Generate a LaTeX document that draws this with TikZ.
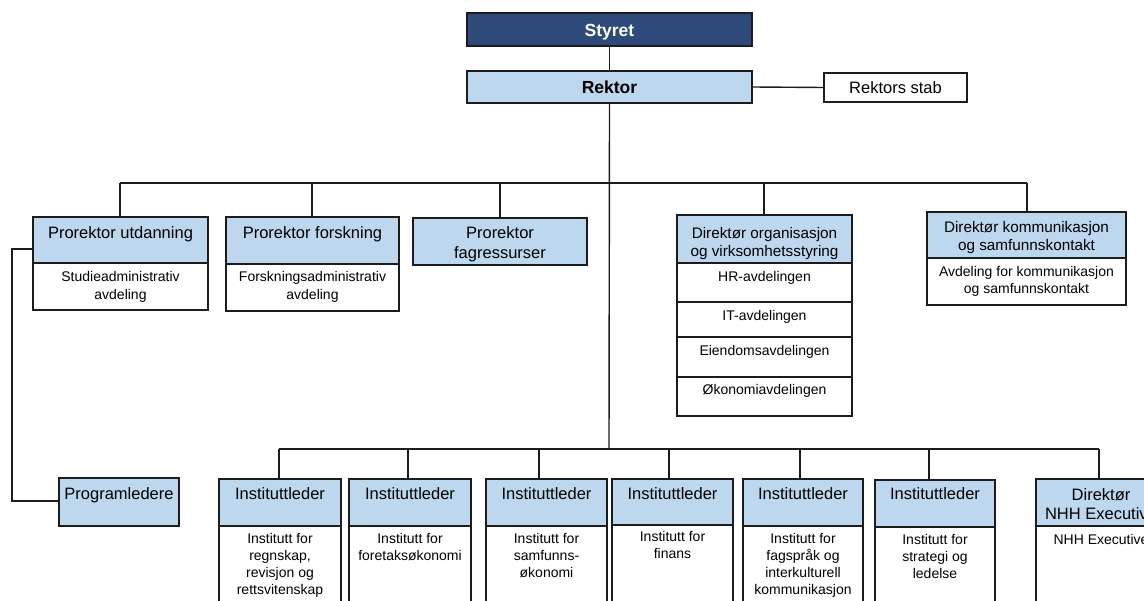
\documentclass[tikz,border=0pt]{standalone}
\usepackage{fontspec}
\setmainfont{Liberation Sans}
\definecolor{navy}{RGB}{46,74,122}
\definecolor{lblue}{RGB}{189,215,238}
\definecolor{linec}{RGB}{28,28,28}
\newcommand\bx[6]{\node[#2, minimum width={#5-#3}, minimum height={#6-#4}, anchor=north west] (#1) at (#3,#4) {};}
\tikzset{
  box/.style={draw=linec, line width=1.7pt, inner sep=0pt, outer sep=0pt},
  hdr/.style={box, fill=lblue},
  topbox/.style={box, fill=navy},
  subbox/.style={box, fill=white},
  conn/.style={draw=linec, line width=1.4pt},
  bigtxt/.style={anchor=base, align=center, inner sep=0pt, font={\fontsize{16.5}{19.5}\selectfont}},
  dirtxt/.style={anchor=base, align=center, inner sep=0pt, font={\fontsize{15.3}{18}\selectfont}},
  smalltxt/.style={anchor=base, align=center, inner sep=0pt, font={\fontsize{14}{17.3}\selectfont}},
  boldtxt/.style={anchor=base, align=center, inner sep=0pt, font={\fontsize{17.5}{20}\selectfont\bfseries}},
}
\begin{document}
\begin{tikzpicture}[x=1pt,y=-1pt]
\clip (0,0) rectangle (1144,601);
\fill[white] (0,0) rectangle (1144,601);

\coordinate (bl) at (12,249);
\coordinate (bl2) at (12,501);
\coordinate (tl) at (120,183);
\coordinate (tr) at (1027,183);
\coordinate (bm) at (609,449);
\coordinate (bbl) at (279,449);
\coordinate (bbr) at (1099,449);

% boxes
\bx{styret}{topbox}{467}{13}{752}{46}
\bx{rektor}{hdr}{467}{71}{752}{103}
\bx{stab}{subbox}{824}{73}{967}{102}

\bx{pu}{hdr}{33}{217}{208}{263}
\bx{pus}{subbox}{33}{263}{208}{310}
\bx{pf}{hdr}{226}{217}{399}{264}
\bx{pfs}{subbox}{226}{264}{399}{311}
\bx{pfag}{hdr}{413}{218}{587}{265}

\bx{dor}{hdr}{677}{215}{852}{263}
\bx{hr}{subbox}{677}{263}{852}{302}
\bx{it}{subbox}{677}{302}{852}{337}
\bx{eiend}{subbox}{677}{337}{852}{377}
\bx{okon}{subbox}{677}{377}{852}{416}

\bx{dk}{hdr}{927}{212}{1126}{258}
\bx{dks}{subbox}{927}{258}{1126}{305}

\bx{prog}{hdr}{59}{478}{179}{526}

\bx{ia}{hdr}{219}{479}{341}{526}
\bx{ias}{subbox}{219}{526}{341}{612}
\bx{ib}{hdr}{349}{479}{471}{526}
\bx{ibs}{subbox}{349}{526}{471}{612}
\bx{ic}{hdr}{486}{479}{607}{526}
\bx{ics}{subbox}{486}{526}{607}{612}
\bx{id}{hdr}{612}{479}{733}{525}
\bx{ids}{subbox}{612}{525}{733}{612}
\bx{ie}{hdr}{743}{479}{863}{526}
\bx{ies}{subbox}{743}{526}{863}{612}
\bx{iff}{hdr}{875}{480}{995}{527}
\bx{iffs}{subbox}{875}{527}{995}{612}
\bx{nhh}{hdr}{1036}{479}{1166}{526}
\bx{nhhs}{subbox}{1036}{526}{1166}{612}

% connectors
\draw[conn] (styret.south) -- (rektor.north);
\draw[conn] (rektor.east) -- (stab.west);
\draw[conn] (rektor.south) -- (bm);
\draw[conn] (tl) -- (tr);
\draw[conn] (tl) -- (pu.north -| tl);
\draw[conn] (312,183) -- (pf.north -| 312,0);
\draw[conn] (500,183) -- (pfag.north);
\draw[conn] (764,183) -- (dor.north -| 764,0);
\draw[conn] (tr) -- (dk.north -| tr);
\draw[conn] (pu.west |- bl) -- (bl) -- (bl2) -- (prog.west |- bl2);
\draw[conn] (bbl) -- (bbr);
\draw[conn] (bbl) -- (ia.north -| bbl);
\draw[conn] (408,449) -- (ib.north -| 408,0);
\draw[conn] (539,449) -- (ic.north -| 539,0);
\draw[conn] (669,449) -- (id.north -| 669,0);
\draw[conn] (800,449) -- (ie.north -| 800,0);
\draw[conn] (929,449) -- (iff.north -| 929,0);
\draw[conn] (bbr) -- (nhh.north -| bbr);

% texts (anchor=base sits on the last line's baseline)
\node[boldtxt, text=white] (t1) at (609.5,37) {Styret};
\node[boldtxt] (t2) at (609.5,94) {Rektor};
\node[bigtxt] (t3) at (895.5,94) {Rektors stab};

\node[bigtxt] (t4) at (120.5,239) {Prorektor utdanning};
\node[smalltxt] (t5) at (120.5,299.3) {Studieadministrativ\\avdeling};
\node[bigtxt] (t6) at (312.5,239) {Prorektor forskning};
\node[smalltxt] (t7) at (312.5,299.3) {Forskningsadministrativ\\avdeling};
\node[bigtxt] (t8) at (500,258.5) {Prorektor\\fagressurser};

\node[dirtxt] (t9) at (764.5,256.5) {Direktør organisasjon\\og virksomhetsstyring};
\node[smalltxt] (t10) at (764.5,282) {HR-avdelingen};
\node[smalltxt] (t11) at (764.5,321) {IT-avdelingen};
\node[smalltxt] (t12) at (764.5,356) {Eiendomsavdelingen};
\node[smalltxt] (t13) at (764.5,395) {Økonomiavdelingen};

\node[dirtxt] (t14) at (1026.5,250.5) {Direktør kommunikasjon\\og samfunnskontakt};
\node[smalltxt] (t15) at (1026.5,294) {Avdeling for kommunikasjon\\og samfunnskontakt};

\node[bigtxt] (t16) at (119,500) {Programledere};

\node[bigtxt] (t17) at (280,500) {Instituttleder};
\node[smalltxt] (t18) at (280,594.9) {Institutt for\\regnskap,\\revisjon og\\rettsvitenskap};
\node[bigtxt] (t19) at (410,500) {Instituttleder};
\node[smalltxt] (t20) at (410,560.3) {Institutt for\\foretaksøkonomi};
\node[bigtxt] (t21) at (546.5,500) {Instituttleder};
\node[smalltxt] (t22) at (546.5,577.6) {Institutt for\\samfunns-\\økonomi};
\node[bigtxt] (t23) at (672.5,500) {Instituttleder};
\node[smalltxt] (t24) at (672.5,558.3) {Institutt for\\finans};
\node[bigtxt] (t25) at (803,500) {Instituttleder};
\node[smalltxt] (t26) at (803,594.9) {Institutt for\\fagspråk og\\interkulturell\\kommunikasjon};
\node[bigtxt] (t27) at (935,500) {Instituttleder};
\node[smalltxt] (t28) at (935,578.6) {Institutt for\\strategi og\\ledelse};
\node[bigtxt] (t29) at (1101,519.5) {Direktør\\NHH Executive};
\node[smalltxt] (t30) at (1101,544) {NHH Executive};
\end{tikzpicture}
\end{document}
